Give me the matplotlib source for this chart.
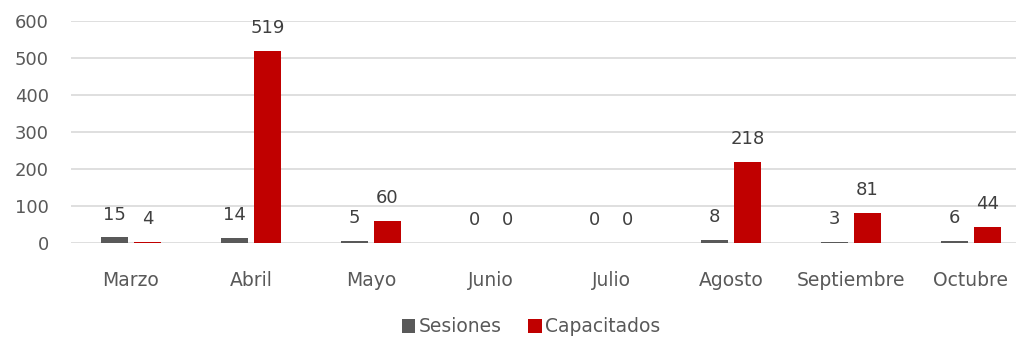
import matplotlib
matplotlib.use("Agg")
import matplotlib.pyplot as plt
import numpy as np

months = ["Marzo", "Abril", "Mayo", "Junio", "Julio", "Agosto", "Septiembre", "Octubre"]
sesiones = [15, 14, 5, 0, 0, 8, 3, 6]
capacitados = [4, 519, 60, 0, 0, 218, 81, 44]
yticks = [0, 100, 200, 300, 400, 500, 600]

plt.rcParams['font.family'] = ['DejaVu Sans']
W, H = 1016, 339
fig = plt.figure(figsize=(W / 100, H / 100), dpi=100)
left, right, top, bottom = 71, 1016, 21, 243
ax = fig.add_axes([left / W, 1 - bottom / H, (right - left) / W, (bottom - top) / H])

x = np.arange(len(months))
bw = 0.233
off = 0.1375
txt = '#595959'
fs = 13
b1 = ax.bar(x - off, sesiones, bw, color='#595959', label='Sesiones', zorder=3)
b2 = ax.bar(x + off, capacitados, bw, color='#C00000', label='Capacitados', zorder=3)

for bars, vals in ((b1, sesiones), (b2, capacitados)):
    for r, v in zip(bars, vals):
        ax.annotate(str(v), (r.get_x() + r.get_width() / 2, v), xytext=(0, 16.5),
                    textcoords='offset points', ha='center', va='center',
                    fontsize=fs, color='#404040')

ax.set_xlim(-0.5, -0.5 + (right - left) / 120)
ax.set_ylim(0, 600)
ax.set_yticks(yticks)
ax.set_yticklabels([str(t) for t in yticks])
ax.set_xticks(x)
ax.set_xticklabels(months)
ax.tick_params(axis='both', length=0, labelsize=fs, colors=txt)
ax.tick_params(axis='x', pad=20, labelsize=13.5)
ax.tick_params(axis='y', pad=16)
ax.yaxis.grid(True, color='#d9d9d9', linewidth=1.2, zorder=0)
for s in ax.spines.values():
    s.set_visible(False)

leg = fig.legend(handles=[b1, b2], loc='center', bbox_to_anchor=(531 / W, 1 - 327 / H),
                 ncol=2, frameon=False, fontsize=13.5, handlelength=0.72, handleheight=0.72,
                 handletextpad=0.15, columnspacing=1.45, labelcolor=txt)
fig.savefig('out.png', dpi=100)
